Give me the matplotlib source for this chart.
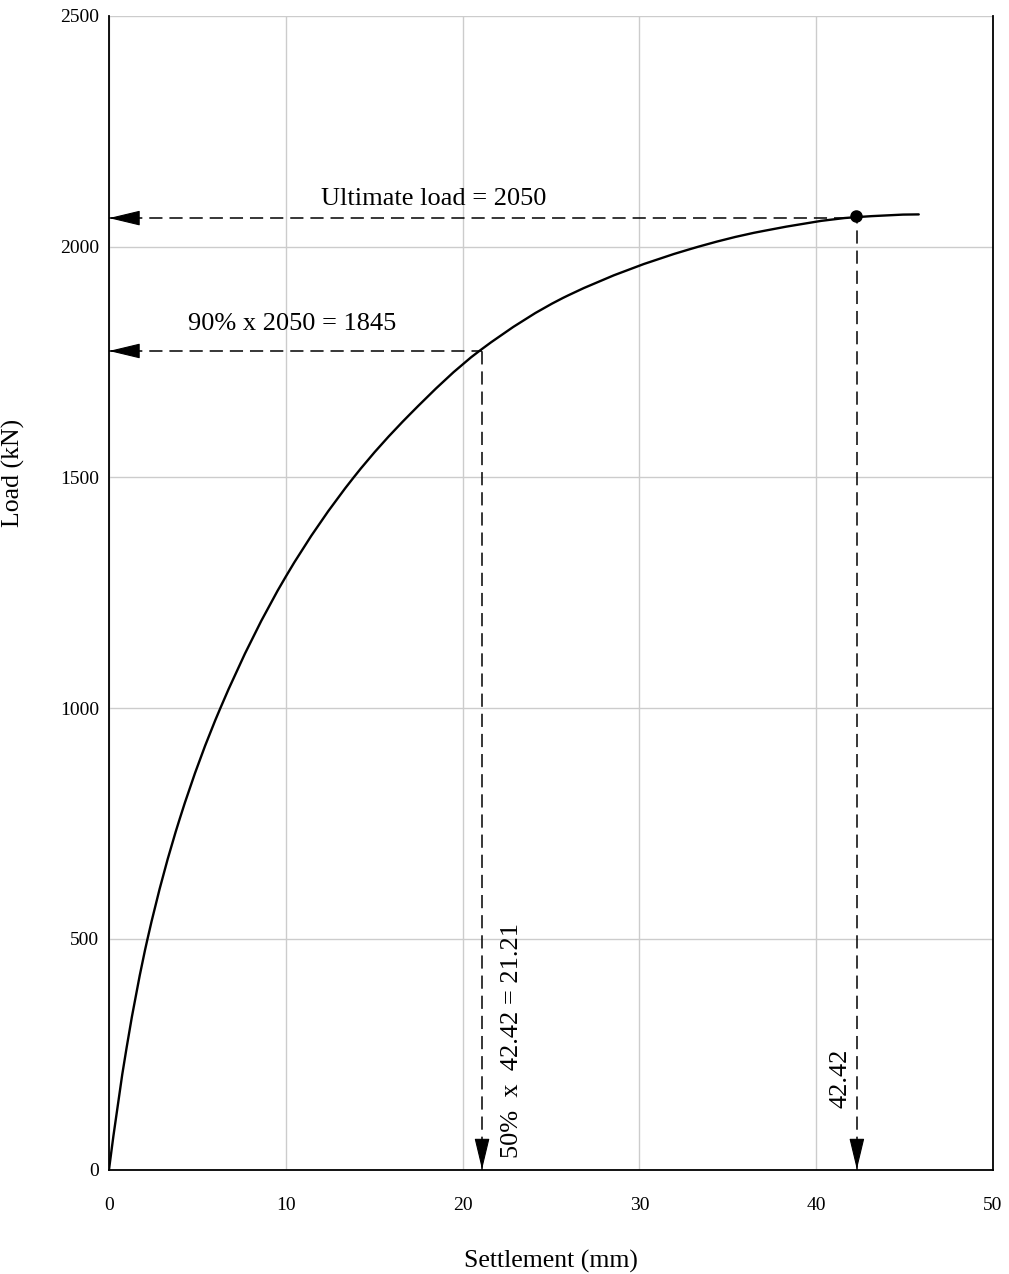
import matplotlib
matplotlib.use("Agg")
import matplotlib.pyplot as plt
from matplotlib.path import Path
from matplotlib.patches import PathPatch
import numpy as np

# ---- data ----
settlement = [0, 1.0, 2.18, 4.0, 6.3, 10.0, 13.84, 17.0, 20.98, 26.0,
              32.8, 37.0, 42.25, 45.8]
load = [0, 265, 500, 760, 1000, 1285, 1500, 1636, 1775, 1895,
        1994, 2034, 2064, 2070]

ultimate_point = (42.25, 2066)
ultimate_line_load = 2062
ninety_line_load = 1774
ninety_curve_s = 21.1
ultimate_s = 42.3

x_ticks = [0, 10, 20, 30, 40, 50]
y_ticks = [0, 500, 1000, 1500, 2000, 2500]

label_ult = "Ultimate load = 2050"
label_90 = "90% x 2050 = 1845"
label_50 = "50%  x  42.42 = 21.21"
label_4242 = "42.42"

plt.rcParams['font.family'] = ['Liberation Serif', 'DejaVu Serif']
plt.rcParams['lines.scale_dashes'] = False

fig = plt.figure(figsize=(10.09, 12.74), dpi=100)
ax = fig.add_axes([109/1009, 1 - 1169.5/1274, 884/1009, (1169.5-16)/1274])

ax.set_xlim(0, 50)
ax.set_ylim(0, 2500)
ax.set_xticks(x_ticks)
ax.set_yticks(y_ticks)
ax.grid(True, color='#cccccc', lw=1.0)
ax.set_axisbelow(True)
ax.tick_params(axis='both', length=0, labelsize=14)
ax.tick_params(axis='x', pad=20)
ax.tick_params(axis='y', pad=7)
for s in ['left', 'bottom', 'right']:
    ax.spines[s].set_linewidth(1.3)
    ax.spines[s].set_color('black')
ax.spines['top'].set_visible(False)

ax.set_xlabel("Settlement (mm)", fontsize=18.5, labelpad=26)
ax.set_ylabel("Load (kN)", fontsize=18.5)
ax.yaxis.set_label_coords(-0.095, 0.604)

# smooth curve through the read points: monotone cubic Hermite drawn as Bezier path
x = np.asarray(settlement, float)
y = np.asarray(load, float)
h = np.diff(x)
delta = np.diff(y) / h
n = len(x)
d = np.zeros(n)
for k in range(1, n - 1):
    if delta[k - 1] * delta[k] <= 0:
        d[k] = 0.0
    else:
        w1 = 2 * h[k] + h[k - 1]
        w2 = h[k] + 2 * h[k - 1]
        d[k] = (w1 + w2) / (w1 / delta[k - 1] + w2 / delta[k])
d[0] = max(((2 * h[0] + h[1]) * delta[0] - h[0] * delta[1]) / (h[0] + h[1]), 0)
d[-1] = max(((2 * h[-1] + h[-2]) * delta[-1] - h[-1] * delta[-2]) / (h[-1] + h[-2]), 0)

verts = [(x[0], y[0])]
codes = [Path.MOVETO]
for k in range(n - 1):
    t = h[k] / 3.0
    verts += [(x[k] + t, y[k] + d[k] * t),
              (x[k + 1] - t, y[k + 1] - d[k + 1] * t),
              (x[k + 1], y[k + 1])]
    codes += [Path.CURVE4] * 3
curve = PathPatch(Path(verts, codes), fill=False, ec='black', lw=1.7, zorder=3,
                  capstyle='round', joinstyle='round')
ax.add_patch(curve)

dash = (0, (9.5, 5))
ax.plot([0, ultimate_point[0]], [ultimate_line_load, ultimate_line_load],
        color='black', lw=1.1, linestyle=dash, zorder=2, clip_on=False)
ax.plot([ultimate_s, ultimate_s], [0, ultimate_point[1]],
        color='black', lw=1.1, linestyle=dash, zorder=2, clip_on=False)
ax.plot([0, ninety_curve_s], [ninety_line_load, ninety_line_load],
        color='black', lw=1.1, linestyle=dash, zorder=2, clip_on=False)
ax.plot([ninety_curve_s, ninety_curve_s], [0, ninety_line_load],
        color='black', lw=1.1, linestyle=dash, zorder=2, clip_on=False)

ax.plot([ultimate_point[0]], [ultimate_point[1]], 'o', color='black', ms=8, zorder=4)

aprops = dict(arrowstyle='-|>,head_length=1.0,head_width=0.24', mutation_scale=20,
              fc='black', ec='black', lw=0.8, shrinkA=0, shrinkB=0)
ax.annotate('', xy=(0, ultimate_line_load), xytext=(20, 0), textcoords='offset points',
            arrowprops=aprops, annotation_clip=False)
ax.annotate('', xy=(0, ninety_line_load), xytext=(20, 0), textcoords='offset points',
            arrowprops=aprops, annotation_clip=False)
ax.annotate('', xy=(ninety_curve_s, 0), xytext=(0, 20), textcoords='offset points',
            arrowprops=aprops, annotation_clip=False)
ax.annotate('', xy=(ultimate_s, 0), xytext=(0, 20), textcoords='offset points',
            arrowprops=aprops, annotation_clip=False)

ax.text(12.0, 2090, label_ult, fontsize=19, ha='left', va='baseline')
ax.text(4.49, 1819, label_90, fontsize=19, ha='left', va='baseline')
ax.text(22.8, 25, label_50, fontsize=19, rotation=90, ha='center', va='bottom')
ax.text(41.35, 133, label_4242, fontsize=19, rotation=90, ha='center', va='bottom')

fig.savefig("out.png", dpi=100)
